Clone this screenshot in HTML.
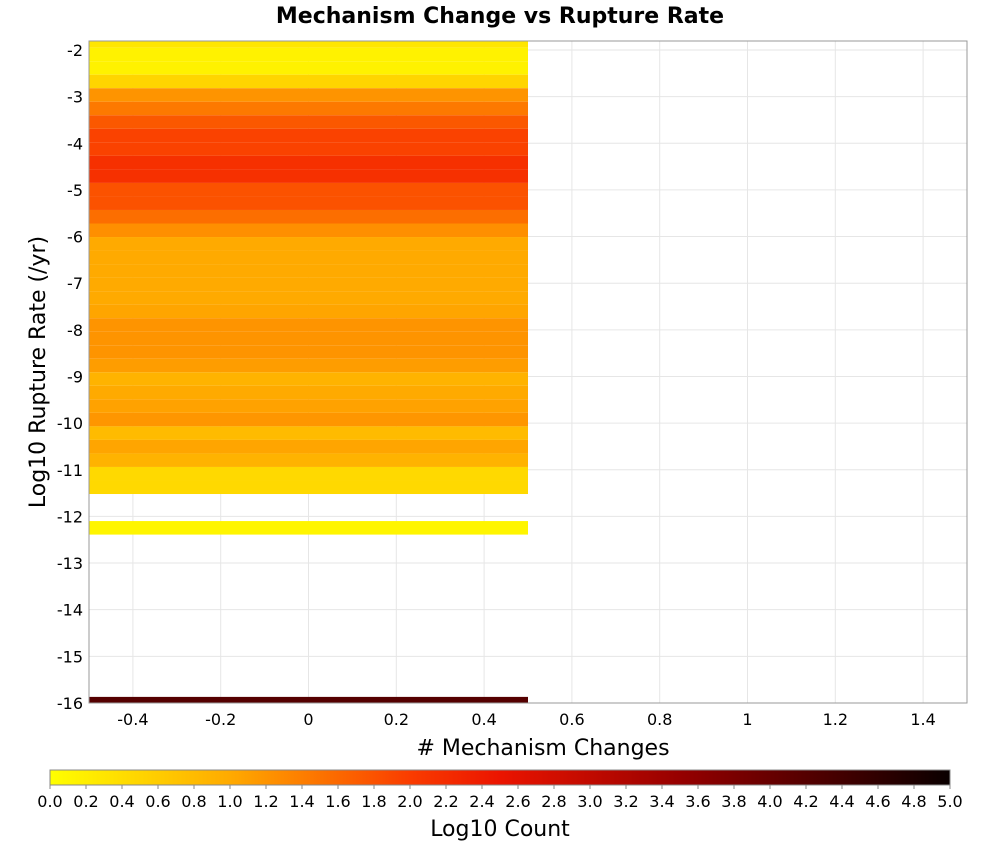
<!DOCTYPE html>
<html><head><meta charset="utf-8"><style>
body{margin:0;background:#fff;font-family:"Liberation Sans","DejaVu Sans",sans-serif}
</style></head><body>
<svg id="c" width="1000" height="850" xmlns="http://www.w3.org/2000/svg" font-family="DejaVu Sans, Liberation Sans, sans-serif">
<defs><linearGradient id="cg" x1="0" x2="1" y1="0" y2="0">
<stop offset="0" stop-color="#ffff00"/><stop offset="0.2" stop-color="#ffaa00"/><stop offset="0.4" stop-color="#fa3c00"/><stop offset="0.5" stop-color="#eb1400"/><stop offset="0.7" stop-color="#960000"/><stop offset="1" stop-color="#0a0000"/></linearGradient></defs>
<text x="500" y="23" text-anchor="middle" font-size="22" font-weight="bold">Mechanism Change vs Rupture Rate</text>
<g id="grid"></g><g id="cells"></g>
<rect x="89" y="41" width="878" height="662" fill="none" stroke="#999"/>
<g id="ticks" font-size="16"></g>
<text x="543" y="755" text-anchor="middle" font-size="22"># Mechanism Changes</text>
<text transform="translate(45,372) rotate(-90)" text-anchor="middle" font-size="22">Log10 Rupture Rate (/yr)</text>
<rect x="50" y="770" width="900" height="15" fill="url(#cg)" stroke="#888"/>
<g id="cbt" font-size="16"></g>
<text x="500" y="836" text-anchor="middle" font-size="22">Log10 Count</text>
</svg>
<script>
const xTicks=[-0.4,-0.2,0,0.2,0.4,0.6,0.8,1,1.2,1.4];
const yTicks=[-2,-3,-4,-5,-6,-7,-8,-9,-10,-11,-12,-13,-14,-15,-16];
const cbTicks=[0,0.2,0.4,0.6,0.8,1,1.2,1.4,1.6,1.8,2,2.2,2.4,2.6,2.8,3,3.2,3.4,3.6,3.8,4,4.2,4.4,4.6,4.8,5];
const binX=[0];
const binStart=-1.95, binWidth=0.29;
const rowIndex=[-1,0,1,2,3,4,5,6,7,8,9,10,11,12,13,14,15,16,17,18,19,20,21,22,23,24,25,26,27,28,29,30,31,32,35,48];
const rowValue=[0.3,0.15,0.15,0.5,1.2,1.45,1.75,1.95,1.95,2.15,2.15,1.8,1.8,1.55,1.25,1.0,1.0,1.0,1.0,1.0,1.05,1.2,1.2,1.2,1.12,0.9,1.0,1.07,1.18,0.8,1.05,0.9,0.45,0.45,0.12,4.2];
const X=v=>89+(v+0.5)*439, Y=v=>50+(-2-v)*46.64;
const ns="http://www.w3.org/2000/svg";
function mk(t,a,p){const e=document.createElementNS(ns,t);for(const k in a)e.setAttribute(k,a[k]);p.appendChild(e);return e;}
const stops=[[0,[255,255,0]],[1,[255,170,0]],[2,[250,60,0]],[2.5,[235,20,0]],[3.5,[150,0,0]],[5,[10,0,0]]];
function cmap(v){for(let i=1;i<stops.length;i++){if(v<=stops[i][0]){const a=stops[i-1],b=stops[i],t=(v-a[0])/(b[0]-a[0]);return 'rgb('+a[1].map((c,j)=>Math.round(c+(b[1][j]-c)*t)).join(',')+')';}}return 'rgb(10,0,0)';}
const g=document.getElementById('grid'),cl=document.getElementById('cells'),tk=document.getElementById('ticks'),cb=document.getElementById('cbt');
xTicks.forEach(v=>{const l=mk('line',{x1:X(v),x2:X(v),y1:41,y2:703,stroke:'#e6e6e6'},g);


const t=mk('text',{x:X(v),y:725,'text-anchor':'middle'},tk);t.textContent=v;

});
yTicks.forEach(v=>{const l=mk('line',{x1:89,x2:967,y1:Y(v),y2:Y(v),stroke:'#e6e6e6'},g);


const t=mk('text',{x:83,y:Y(v)+6,'text-anchor':'end'},tk);t.textContent=v;

});
const yTop=-1.807,yBot=-16;
binX.forEach(bx=>{rowIndex.forEach((ri,k)=>{let top=binStart-ri*binWidth,bot=top-binWidth;top=Math.min(top,yTop);bot=Math.max(bot,yBot);
const r=mk('rect',{x:X(bx-0.5),width:X(bx+0.5)-X(bx-0.5),y:Y(top),height:Y(bot)-Y(top),fill:cmap(rowValue[k])},cl);

});});
cbTicks.forEach(v=>{const x=50+v*180;const l=mk('line',{x1:x,x2:x,y1:785,y2:789,stroke:'#888'},cb);


const t=mk('text',{x:x,y:807,'text-anchor':'middle'},cb);t.textContent=v.toFixed(1);

});
</script>
</body></html>
